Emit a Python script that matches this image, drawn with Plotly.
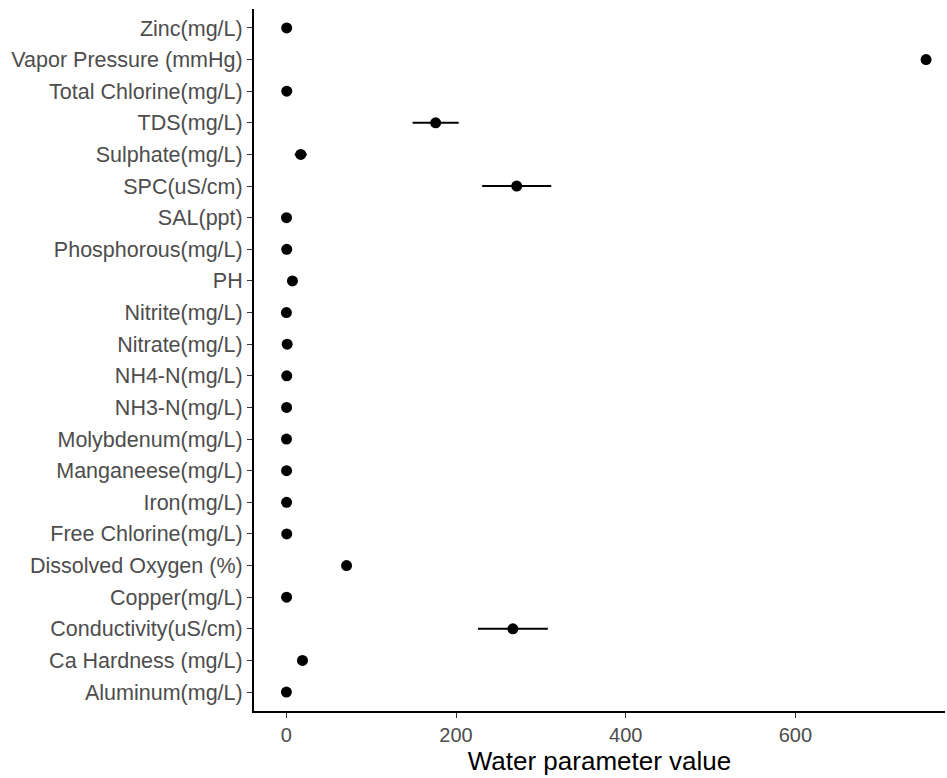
import plotly.graph_objects as go

categories = ["Aluminum(mg/L)", "Ca Hardness (mg/L)", "Conductivity(uS/cm)", "Copper(mg/L)",
              "Dissolved Oxygen (%)", "Free Chlorine(mg/L)", "Iron(mg/L)", "Manganeese(mg/L)",
              "Molybdenum(mg/L)", "NH3-N(mg/L)", "NH4-N(mg/L)", "Nitrate(mg/L)", "Nitrite(mg/L)",
              "PH", "Phosphorous(mg/L)", "SAL(ppt)", "SPC(uS/cm)", "Sulphate(mg/L)",
              "TDS(mg/L)", "Total Chlorine(mg/L)", "Vapor Pressure (mmHg)", "Zinc(mg/L)"]
means = [0.1, 19, 267, 0.3, 71, 0.5, 0.3, 0.3, 0.2, 0.3, 0.5, 1.0, 0.1,
         7.2, 0.5, 0.2, 271.5, 17, 176, 0.5, 754, 0.4]
errors = [0.05, 1.5, 40, 0.1, 2.5, 0.2, 0.1, 0.1, 0.1, 0.1, 0.2, 0.4, 0.05,
          0.3, 0.2, 0.05, 39.5, 6, 26, 0.2, 2, 0.1]

fig = go.Figure()
fig.add_trace(go.Scatter(
    x=means, y=categories, mode="markers",
    marker=dict(color="black", size=11),
    error_x=dict(type="data", array=errors, visible=True, color="black",
                 thickness=2, width=1),
    showlegend=False,
))

font_family = "Liberation Sans, Arial, sans-serif"
fig.update_layout(
    width=947, height=778,
    margin=dict(l=254, r=2, t=9, b=67),
    plot_bgcolor="white", paper_bgcolor="white",
    font=dict(family=font_family),
    xaxis=dict(
        range=[-38.1, 776.3],
        tickvals=[0, 200, 400, 600],
        ticktext=["0", "200", "400", "600"],
        showgrid=False, zeroline=False,
        showline=True, linecolor="black", linewidth=2,
        ticks="outside", ticklen=5, tickcolor="#333333", tickwidth=1.2,
        tickfont=dict(size=20, color="#4D4D4D"),
        title=dict(text="Water parameter value", font=dict(size=26, color="black"), standoff=4),
    ),
    yaxis=dict(
        type="category",
        categoryorder="array", categoryarray=categories,
        range=[-0.6, 21.6],
        showgrid=False, zeroline=False,
        showline=True, linecolor="black", linewidth=2,
        ticks="outside", ticklen=5, tickcolor="#333333", tickwidth=1.2,
        tickfont=dict(size=21.5, color="#4D4D4D"),
    ),
)

fig.write_html("out.html")
